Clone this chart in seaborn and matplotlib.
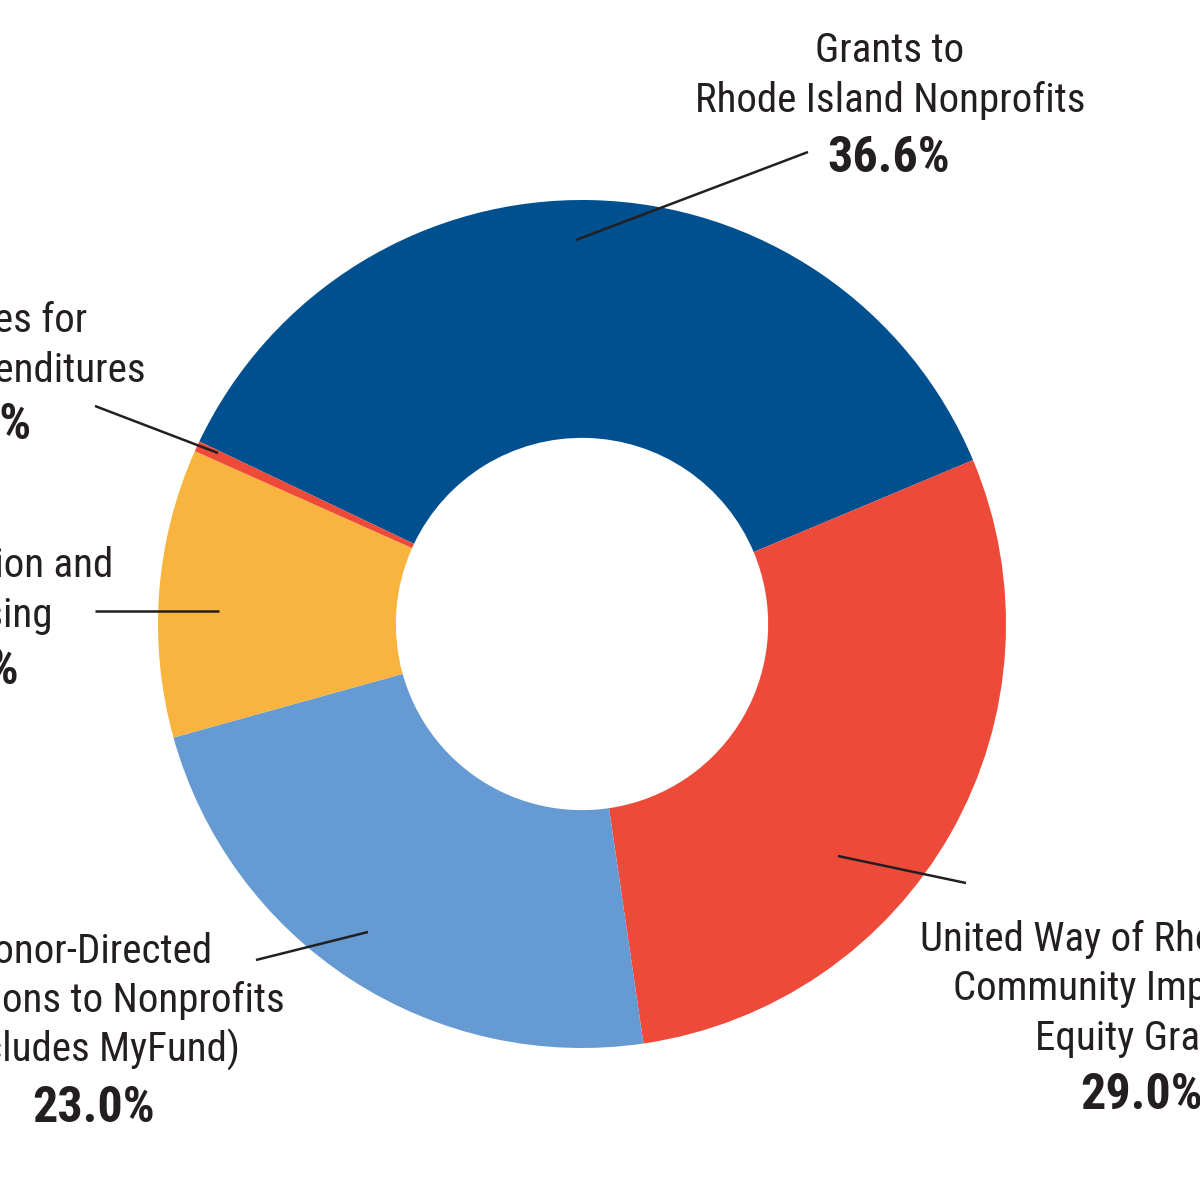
import matplotlib
matplotlib.use("Agg")
import matplotlib.pyplot as plt
import seaborn as sns

# data
categories = ["Grants to Rhode Island Nonprofits",
              "United Way of Rhode Island Community Impact and Equity Grants",
              "Donor-Directed Distributions to Nonprofits (includes MyFund)",
              "Administration and Fundraising",
              "Reserves for Future Expenditures"]
shares = [36.6, 29.0, 23.0, 11.0, 0.4]
colors = ["#00508F", "#EE4A3A", "#669AD2", "#F9B43F", "#EE4A3A"]

sns.set_theme(style="white")
plt.rcParams["font.family"] = ["Roboto Condensed", "DejaVu Sans"]
plt.rcParams["font.stretch"] = "condensed"

TXT = "#231F20"
CX, CY, R = 582, 624, 424  # pixel centre / radius of the donut


def px(x, y):
    # pixel position (from top-left) -> data coords
    return (x - CX) / R, (CY - y) / R


fig = plt.figure(figsize=(12, 12), dpi=100)
ax = fig.add_axes([0, 0, 1, 1])
ax.pie(shares, colors=sns.color_palette(colors), startangle=154.5,
       counterclock=False, radius=1,
       wedgeprops=dict(width=0.561, linewidth=0))
x0, y1 = px(0, 0)
x1, y0 = px(1200, 1200)
ax.set_xlim(x0, x1)
ax.set_ylim(y0, y1)
ax.set_aspect("auto")
ax.axis("off")

# label lines: (text, x, baseline y, ha, bold)
labels = [
    ("Grants to", 890, 62, "center", False),
    ("Rhode Island Nonprofits", 890, 112, "center", False),
    (f"{shares[0]:.1f}%", 889, 172, "center", True),
    ("United Way of Rhode Island", 920, 951, "left", False),
    ("Community Impact and", 953, 1000, "left", False),
    ("Equity Grants", 1035, 1050, "left", False),
    (f"{shares[1]:.1f}%", 1080, 1109, "left", True),
    ("Donor-Directed", 213, 963, "right", False),
    ("Distributions to Nonprofits", 285, 1012, "right", False),
    ("(includes MyFund)", 240, 1062, "right", False),
    (f"{shares[2]:.1f}%", 94, 1122, "center", True),
    ("Administration and", 113, 577, "right", False),
    ("Fundraising", 53, 627, "right", False),
    (f"{shares[3]:.1f}%", 19, 684, "right", True),
    ("Reserves for", 87, 332, "right", False),
    ("Future Expenditures", 146, 382, "right", False),
    (f"{shares[4]:.1f}%", 32, 439, "right", True),
]
for txt, x, y, ha, bold in labels:
    tx, ty = px(x, y)
    ax.text(tx, ty, txt, ha=ha, va="baseline", color=TXT,
            fontsize=36 if bold else 29.5,
            fontweight="bold" if bold else "normal")

# leader lines
leaders = [((576, 240), (808, 152)),
           ((838, 856), (966, 883)),
           ((368, 932), (256, 960)),
           ((219, 611), (95, 611)),
           ((218, 453), (95, 406))]
for a, b in leaders:
    (ax_, ay), (bx, by) = px(*a), px(*b)
    ax.plot([ax_, bx], [ay, by], color=TXT, lw=1.8, solid_capstyle="butt")

fig.savefig("out.png", dpi=100, facecolor="white")
